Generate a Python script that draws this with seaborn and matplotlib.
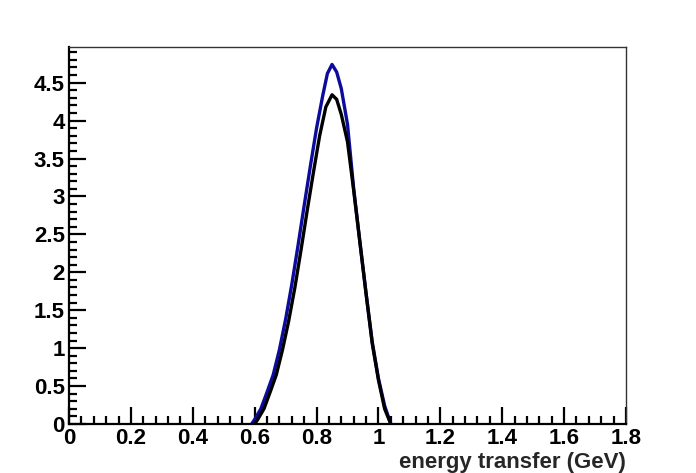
import numpy as np
import pandas as pd
import matplotlib
matplotlib.use("Agg")
import matplotlib.pyplot as plt
from matplotlib.ticker import MultipleLocator, FormatStrFormatter
import seaborn as sns

# blue curve
blue_x = [0.59, 0.60, 0.62, 0.64, 0.66, 0.68, 0.70, 0.72, 0.74, 0.76, 0.78, 0.80,
          0.82, 0.835, 0.85, 0.865, 0.88, 0.90, 0.92, 0.94, 0.96, 0.98, 1.00, 1.02, 1.04]
blue_y = [0.00, 0.06, 0.20, 0.42, 0.65, 0.98, 1.38, 1.84, 2.35, 2.88, 3.40, 3.90,
          4.33, 4.62, 4.74, 4.64, 4.42, 3.95, 3.10, 2.40, 1.72, 1.08, 0.60, 0.24, 0.00]

# black curve
black_x = [0.60, 0.61, 0.63, 0.65, 0.67, 0.69, 0.71, 0.73, 0.75, 0.77, 0.79, 0.81,
           0.83, 0.85, 0.865, 0.88, 0.90, 0.92, 0.94, 0.96, 0.98, 1.00, 1.02, 1.04]
black_y = [0.00, 0.06, 0.20, 0.42, 0.65, 0.98, 1.36, 1.80, 2.30, 2.82, 3.32, 3.80,
           4.18, 4.34, 4.28, 4.08, 3.72, 3.08, 2.40, 1.72, 1.06, 0.58, 0.20, 0.00]

x_label = "energy transfer (GeV)"

df = pd.concat([
    pd.DataFrame({"x": blue_x, "y": blue_y, "s": "blue"}),
    pd.DataFrame({"x": black_x, "y": black_y, "s": "black"}),
])

sns.set_style("ticks")
plt.rcParams['font.family'] = ['Liberation Sans', 'DejaVu Sans']

fig = plt.figure(figsize=(6.96, 4.73), dpi=100)
ax = fig.add_axes([69 / 696, 1 - 424 / 473, (626 - 69) / 696, (424 - 47) / 473])

sns.lineplot(data=df, x="x", y="y", hue="s", palette={"blue": "#0c0c9c", "black": "black"},
             sort=False, estimator=None, linewidth=2.4, legend=False, ax=ax)
for ln in ax.get_lines():
    ln.set_solid_joinstyle("round")

ax.set_xlim(0, 1.8)
ax.set_ylim(0, 4.97)
ax.xaxis.set_major_locator(MultipleLocator(0.2))
ax.xaxis.set_minor_locator(MultipleLocator(0.04))
ax.yaxis.set_major_locator(MultipleLocator(0.5))
ax.yaxis.set_minor_locator(MultipleLocator(0.1))
ax.xaxis.set_major_formatter(FormatStrFormatter("%g"))
ax.yaxis.set_major_formatter(FormatStrFormatter("%g"))

ax.tick_params(which="both", direction="in", top=False, right=False, width=1.6,
               labelsize=16, colors="black")
ax.tick_params(which="major", length=12)
ax.tick_params(which="minor", length=6)
ax.tick_params(axis="y", pad=3)
ax.tick_params(axis="x", pad=3)
for lab in ax.get_xticklabels() + ax.get_yticklabels():
    lab.set_fontweight("bold")

for side in ["left", "bottom"]:
    ax.spines[side].set_linewidth(1.6)
    ax.spines[side].set_color("black")
for side in ["top", "right"]:
    ax.spines[side].set_visible(True)
    ax.spines[side].set_linewidth(1.0)
    ax.spines[side].set_color("#333333")

ax.set_ylabel("")
ax.set_xlabel(x_label, fontsize=16, fontweight="bold", loc="right", labelpad=2)

fig.savefig("out.png", dpi=100)
